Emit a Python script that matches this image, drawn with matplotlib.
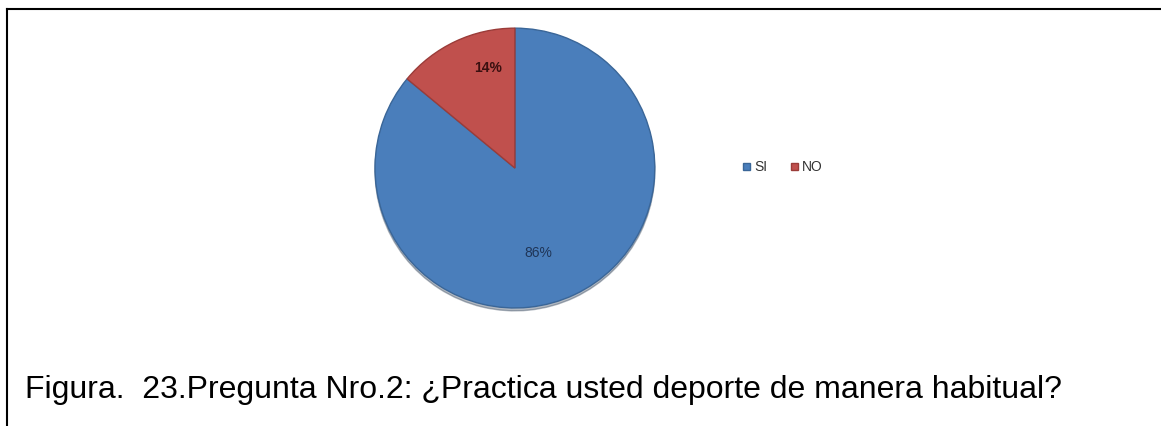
import matplotlib
matplotlib.use("Agg")
import matplotlib.pyplot as plt
import numpy as np
from matplotlib.lines import Line2D
from matplotlib.patches import Patch

labels = ["SI", "NO"]
values = [86, 14]
colors = ["#4A7EBB", "#C0504D"]
edge_colors = ["#3A6698", "#9B3C39"]
pct_colors = ["#1F3557", "#3A1010"]
pct_weights = ["normal", "bold"]
pct_radius = [0.63, 0.74]
caption = "Figura.  23.Pregunta Nro.2: ¿Practica usted deporte de manera habitual?"

plt.rcParams["font.family"] = ["Liberation Sans", "DejaVu Sans"]

fig = plt.figure(figsize=(11.61, 4.26), dpi=100)
fig.patch.set_facecolor("white")

ax = fig.add_axes([0.323, 0.277, 0.241, 0.657])
wedges, _, autotexts = ax.pie(
    values, colors=colors, startangle=90, counterclock=False,
    autopct="%1.0f%%",
    wedgeprops=dict(linewidth=1.0),
    textprops=dict(fontsize=10),
    shadow=dict(ox=0.0, oy=-0.015, shade=0.6, alpha=0.35),
)
for w, ec in zip(wedges, edge_colors):
    w.set_edgecolor(ec)
for w, t, c, fw, r in zip(wedges, autotexts, pct_colors, pct_weights, pct_radius):
    t.set_color(c)
    t.set_fontweight(fw)
    # labels sit a little clockwise of the wedge middle
    ang = np.deg2rad((w.theta1 + w.theta2) / 2 - 10)
    t.set_position((r * np.cos(ang), r * np.sin(ang)))
ax.set_xlim(-1, 1)
ax.set_ylim(-1, 1)
ax.set_aspect("equal")

handles = [Patch(facecolor=c, edgecolor=ec, label=l)
           for l, c, ec in zip(labels, colors, edge_colors)]
fig.legend(handles=handles, loc="center left", bbox_to_anchor=(0.629, 0.607),
           ncol=2, frameon=False, fontsize=10, handlelength=0.5, handleheight=0.5,
           handletextpad=0.3, columnspacing=1.7, labelcolor="#333333")

# outer frame: top and left edges only
fig.add_artist(Line2D([0.0056, 1.0], [0.978, 0.978], color="black", lw=1.5,
                      transform=fig.transFigure))
fig.add_artist(Line2D([0.0056, 0.0056], [0.0, 0.978], color="black", lw=1.5,
                      transform=fig.transFigure))

fig.text(25 / 1161, 1 - 398 / 426, caption, fontsize=23, color="black",
         va="baseline", ha="left")

fig.savefig("out.png", dpi=100)
